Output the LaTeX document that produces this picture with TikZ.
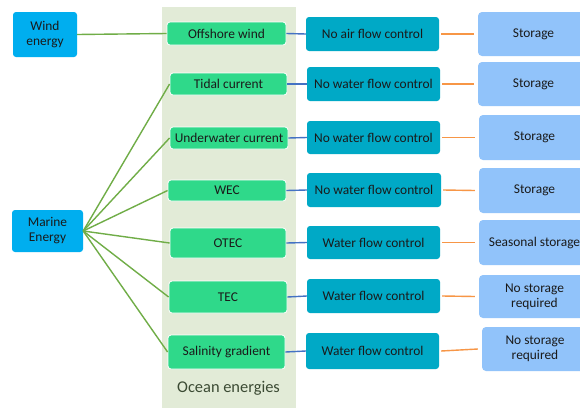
\documentclass[tikz,border=0pt]{standalone}
\usepackage{fontspec}
\setmainfont{Carlito}
\definecolor{panelc}{HTML}{E2EBD7}
\definecolor{topc}{HTML}{00AEEF}
\definecolor{greenc}{HTML}{2FD98A}
\definecolor{tealc}{HTML}{00A9C6}
\definecolor{lbluec}{HTML}{91C3FA}
\definecolor{glinec}{HTML}{70AD47}
\definecolor{blinec}{HTML}{4472C4}
\definecolor{olinec}{HTML}{F79646}
\definecolor{txtc}{HTML}{1A1A1A}
\definecolor{labc}{HTML}{3B4A33}
\tikzset{
  box/.style={rounded corners=3pt, inner sep=0pt, align=center, text=txtc,
    font=\fontsize{13.4pt}{15pt}\selectfont},
  topbox/.style={box, fill=topc},
  greenbox/.style={box, fill=greenc, draw=white, line width=0.8pt},
  tealbox/.style={box, fill=tealc},
  lbluebox/.style={box, fill=lbluec, rounded corners=4pt},
  gline/.style={draw=glinec, line width=1.4pt},
  bline/.style={draw=blinec, line width=1.4pt},
  oline/.style={draw=olinec, line width=1.4pt},
}
\begin{document}
\begin{tikzpicture}[x=1pt,y=-1pt]
\clip (0,0) rectangle (580,407);
\fill[white] (0,0) rectangle (580,407);
\fill[panelc] (162,7) rectangle (296,410);
\node[font=\fontsize{16.4pt}{18pt}\selectfont, text=labc] (lab) at (228.5,388) {Ocean energies};

\node[topbox, minimum width=64pt, minimum height=45pt] (wind) at (45,34.5) {Wind\\energy};
\node[topbox, minimum width=71pt, minimum height=42pt] (marine) at (47.5,231) {Marine\\Energy};

\node[greenbox, minimum width=119pt, minimum height=23pt] (g1) at (226.5,33.5) {Offshore wind};
\node[greenbox, minimum width=117pt, minimum height=22pt] (g2) at (228.5,84) {Tidal current};
\node[greenbox, minimum width=118pt, minimum height=22pt] (g3) at (229,138) {Underwater current};
\node[greenbox, minimum width=118pt, minimum height=21pt] (g4) at (227,190.5) {WEC};
\node[greenbox, minimum width=116pt, minimum height=30pt] (g5) at (228,243) {OTEC};
\node[greenbox, minimum width=118pt, minimum height=32pt] (g6) at (228,297) {TEC};
\node[greenbox, minimum width=117pt, minimum height=34pt] (g7) at (226.5,352) {Salinity gradient};

\node[tealbox, minimum width=133pt, minimum height=34pt] (t1) at (372.5,34) {No air flow control};
\node[tealbox, minimum width=133pt, minimum height=34pt] (t2) at (373.5,84) {No water flow control};
\node[tealbox, minimum width=133pt, minimum height=33pt] (t3) at (373.5,137.5) {No water flow control};
\node[tealbox, minimum width=134pt, minimum height=34pt] (t4) at (374,190) {No water flow control};
\node[tealbox, minimum width=133pt, minimum height=33pt] (t5) at (373.5,242.5) {Water flow control};
\node[tealbox, minimum width=133pt, minimum height=34pt] (t6) at (373.5,296) {Water flow control};
\node[tealbox, minimum width=133pt, minimum height=36pt] (t7) at (372.5,351) {Water flow control};

\node[lbluebox, minimum width=111pt, minimum height=44pt] (s1) at (533.5,34) {Storage};
\node[lbluebox, minimum width=111pt, minimum height=44pt] (s2) at (533.5,84) {Storage};
\node[lbluebox, minimum width=111pt, minimum height=45pt] (s3) at (534.5,137.5) {Storage};
\node[lbluebox, minimum width=111pt, minimum height=45pt] (s4) at (534.5,190.5) {Storage};
\node[lbluebox, minimum width=111pt, minimum height=45pt] (s5) at (534.5,242.5) {Seasonal storage};
\node[lbluebox, minimum width=111pt, minimum height=43pt] (s6) at (534.5,296.5) {No storage\\required};
\node[lbluebox, minimum width=106pt, minimum height=44pt] (s7) at (535,349) {No storage\\required};

\draw[gline] (wind.east) -- (g1.west);
\foreach \g in {g2,g3,g4,g5,g6,g7}{\draw[gline] (marine.east) -- (\g.west);}
\foreach \i in {1,...,7}{
  \draw[bline] (g\i.east) -- (t\i.west);
  \draw[oline] ([xshift=2pt]t\i.east) -- ([xshift=-4pt]s\i.west);
}
\end{tikzpicture}
\end{document}
